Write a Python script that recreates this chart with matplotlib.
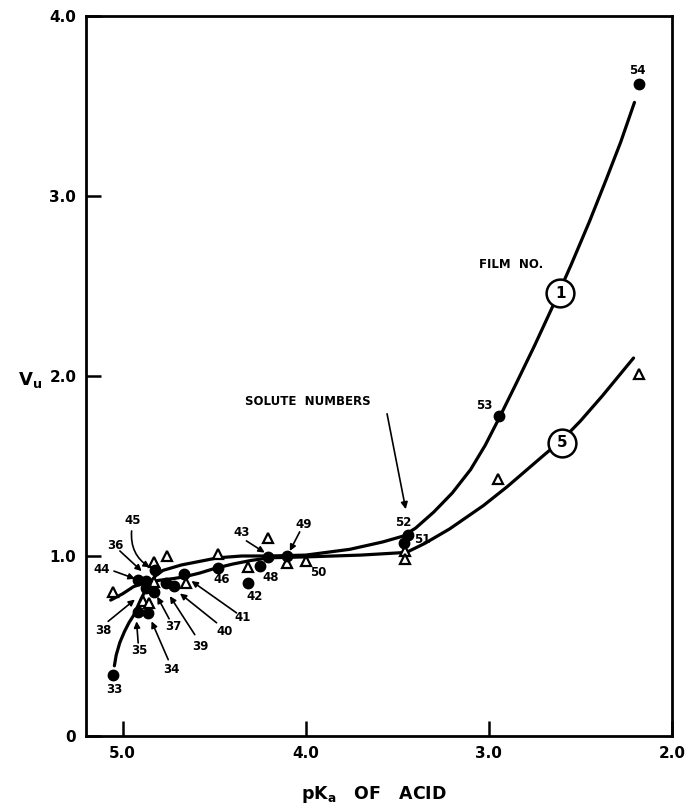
import matplotlib
matplotlib.use("Agg")
import matplotlib.pyplot as plt

'''
data read off the figure (pKa of acid, Vu)
'''

# film 1 : filled circles
film1_pka = [5.05, 4.915, 4.86, 4.87, 4.915, 4.87, 4.83, 4.824, 4.764, 4.72,
             4.664, 4.48, 4.315, 4.25, 4.205, 4.10, 3.465, 3.44, 2.947, 2.18]
film1_vu = [0.34, 0.69, 0.685, 0.82, 0.866, 0.86, 0.80, 0.92, 0.85, 0.836,
            0.90, 0.935, 0.85, 0.944, 0.997, 1.0, 1.075, 1.115, 1.78, 3.62]

# film 5 : open triangles
film5_pka = [5.05, 4.83, 4.757, 4.83, 4.89, 4.855, 4.655, 4.48, 4.315, 4.205,
             4.10, 4.0, 3.46, 3.46, 2.95, 2.18]
film5_vu = [0.80, 0.966, 1.0, 0.855, 0.75, 0.74, 0.85, 1.01, 0.94, 1.10,
            0.963, 0.972, 1.03, 0.985, 1.43, 2.01]

# hand drawn curves
curve1_pka = [5.045, 5.035, 5.015, 4.99, 4.965, 4.94, 4.90, 4.86, 4.82, 4.78,
              4.68, 4.58, 4.48, 4.35, 4.2, 4.0, 3.76, 3.58, 3.47, 3.40, 3.30,
              3.20, 3.10, 3.02, 2.947, 2.85, 2.75, 2.65, 2.55, 2.45, 2.36,
              2.28, 2.205]
curve1_vu = [0.39, 0.45, 0.52, 0.58, 0.63, 0.67, 0.76, 0.84, 0.89, 0.92,
             0.95, 0.97, 0.99, 1.0, 1.0, 1.005, 1.037, 1.078, 1.11, 1.155,
             1.245, 1.35, 1.48, 1.615, 1.76, 1.96, 2.17, 2.39, 2.62, 2.86,
             3.09, 3.30, 3.52]
curve5_pka = [5.065, 5.0, 4.94, 4.88, 4.80, 4.72, 4.66, 4.58, 4.50, 4.40, 4.30,
              4.2, 4.0, 3.7, 3.45, 3.35, 3.215, 3.03, 2.90, 2.78, 2.70, 2.60,
              2.50, 2.38, 2.21]
curve5_vu = [0.755, 0.79, 0.83, 0.85, 0.865, 0.875, 0.885, 0.905, 0.93, 0.955,
             0.975, 0.99, 0.995, 1.005, 1.02, 1.07, 1.15, 1.28, 1.385, 1.49,
             1.56, 1.645, 1.75, 1.89, 2.10]

# film number tags on the curves
tag_text = ["1", "5"]
tag_pka = [2.61, 2.60]
tag_vu = [2.46, 1.63]

# solute numbers without arrows
plain_labels = ["33", "46", "48", "42", "50", "52", "51", "53", "54"]
plain_pka = [5.046, 4.46, 4.193, 4.278, 3.933, 3.469, 3.363, 3.027, 2.187]
plain_vu = [0.26, 0.87, 0.88, 0.777, 0.911, 1.186, 1.089, 1.837, 3.696]

# solute numbers with arrows : label, text pos, arrow tail, arrow head
arrow_labels = ["45", "36", "44", "38", "35", "34", "37", "39", "40", "41",
                "43", "49"]
arrow_text_pka = [4.947, 5.041, 5.115, 5.106, 4.911, 4.733, 4.724, 4.578,
                  4.442, 4.342, 4.351, 4.011]
arrow_text_vu = [1.195, 1.060, 0.926, 0.587, 0.474, 0.368, 0.610, 0.498,
                 0.582, 0.656, 1.131, 1.177]
arrow_tail_pka = [4.951, 5.015, 5.047, 5.079, 4.915, 4.751, 4.746, 4.606,
                  4.487, 4.378, 4.324, 4.033]
arrow_tail_vu = [1.139, 1.028, 0.916, 0.637, 0.517, 0.424, 0.651, 0.563,
                 0.629, 0.684, 1.084, 1.134]
arrow_head_pka = [4.851, 4.896, 4.933, 4.933, 4.924, 4.842, 4.811, 4.742,
                  4.687, 4.624, 4.224, 4.087]
arrow_head_vu = [0.937, 0.916, 0.874, 0.758, 0.637, 0.637, 0.774, 0.777,
                 0.792, 0.861, 1.019, 1.028]

x_ticks = [5.0, 4.0, 3.0, 2.0]
x_tick_labels = ["5.0", "4.0", "3.0", "2.0"]
y_ticks = [0, 1, 2, 3, 4]
y_tick_labels = ["0", "1.0", "2.0", "3.0", "4.0"]


def draw():
    plt.rcParams['font.family'] = ['DejaVu Sans']
    fig = plt.figure(figsize=(6.86, 8.07), dpi=100)
    ax = fig.add_axes([86 / 686, 1 - 736 / 807, 586 / 686, 720 / 807])

    ax.plot(curve1_pka, curve1_vu, color='black', lw=2.3,
            solid_capstyle='round', solid_joinstyle='round', zorder=2)
    ax.plot(curve5_pka, curve5_vu, color='black', lw=2.3,
            solid_capstyle='round', solid_joinstyle='round', zorder=2)

    ax.plot(film1_pka, film1_vu, 'o', color='black', ms=7.5, zorder=4)
    ax.plot(film5_pka, film5_vu, '^', mfc='white', mec='black', mew=1.6,
            ms=7, zorder=3)

    # circled film numbers
    for t, px, py in zip(tag_text, tag_pka, tag_vu):
        ax.plot(px, py, 'o', mfc='white', mec='black', mew=1.8, ms=20,
                zorder=5)
        ax.text(px, py, t, ha='center', va='center', fontsize=11,
                fontweight='bold', zorder=6)
    ax.text(2.878, 2.617, "FILM  NO.", ha='center', va='center', fontsize=8.5,
            fontweight='bold')

    for t, px, py in zip(plain_labels, plain_pka, plain_vu):
        ax.text(px, py, t, ha='center', va='center', fontsize=8.5,
                fontweight='bold')

    for i, t in enumerate(arrow_labels):
        ax.text(arrow_text_pka[i], arrow_text_vu[i], t, ha='center',
                va='center', fontsize=8.5, fontweight='bold')
        rad = 0.3 if t == "45" else 0.0
        ax.annotate("", xy=(arrow_head_pka[i], arrow_head_vu[i]),
                    xytext=(arrow_tail_pka[i], arrow_tail_vu[i]),
                    arrowprops=dict(arrowstyle='-|>', color='black', lw=1.2,
                                    mutation_scale=9, shrinkA=0, shrinkB=0,
                                    connectionstyle="arc3,rad=%.2f" % rad),
                    zorder=7)

    ax.text(3.987, 1.859, "SOLUTE  NUMBERS", ha='center', va='center',
            fontsize=8.5, fontweight='bold')
    ax.annotate("", xy=(3.454, 1.26), xytext=(3.556, 1.79),
                arrowprops=dict(arrowstyle='-|>', color='black', lw=1.2,
                                mutation_scale=10, shrinkA=0, shrinkB=0))

    ax.set_xlim(5.2, 2.0)
    ax.set_ylim(0, 4.0)
    ax.set_xticks(x_ticks)
    ax.set_xticklabels(x_tick_labels, fontsize=11, fontweight='bold')
    ax.set_yticks(y_ticks)
    ax.set_yticklabels(y_tick_labels, fontsize=11, fontweight='bold')
    ax.tick_params(direction='in', length=11, width=1.8, pad=7,
                   top=False, right=False)
    for s in ax.spines.values():
        s.set_linewidth(2)

    ax.text(-0.095, 0.494, "V$_\\mathregular{u}$", transform=ax.transAxes,
            ha='center', va='center', fontsize=13, fontweight='bold')
    fig.text(0.545, 0.016, "pK$_\\mathregular{a}$   OF   ACID", ha='center',
             va='center', fontsize=12.5, fontweight='bold')

    fig.savefig("out.png", dpi=100)


if __name__ == '__main__':
    draw()
